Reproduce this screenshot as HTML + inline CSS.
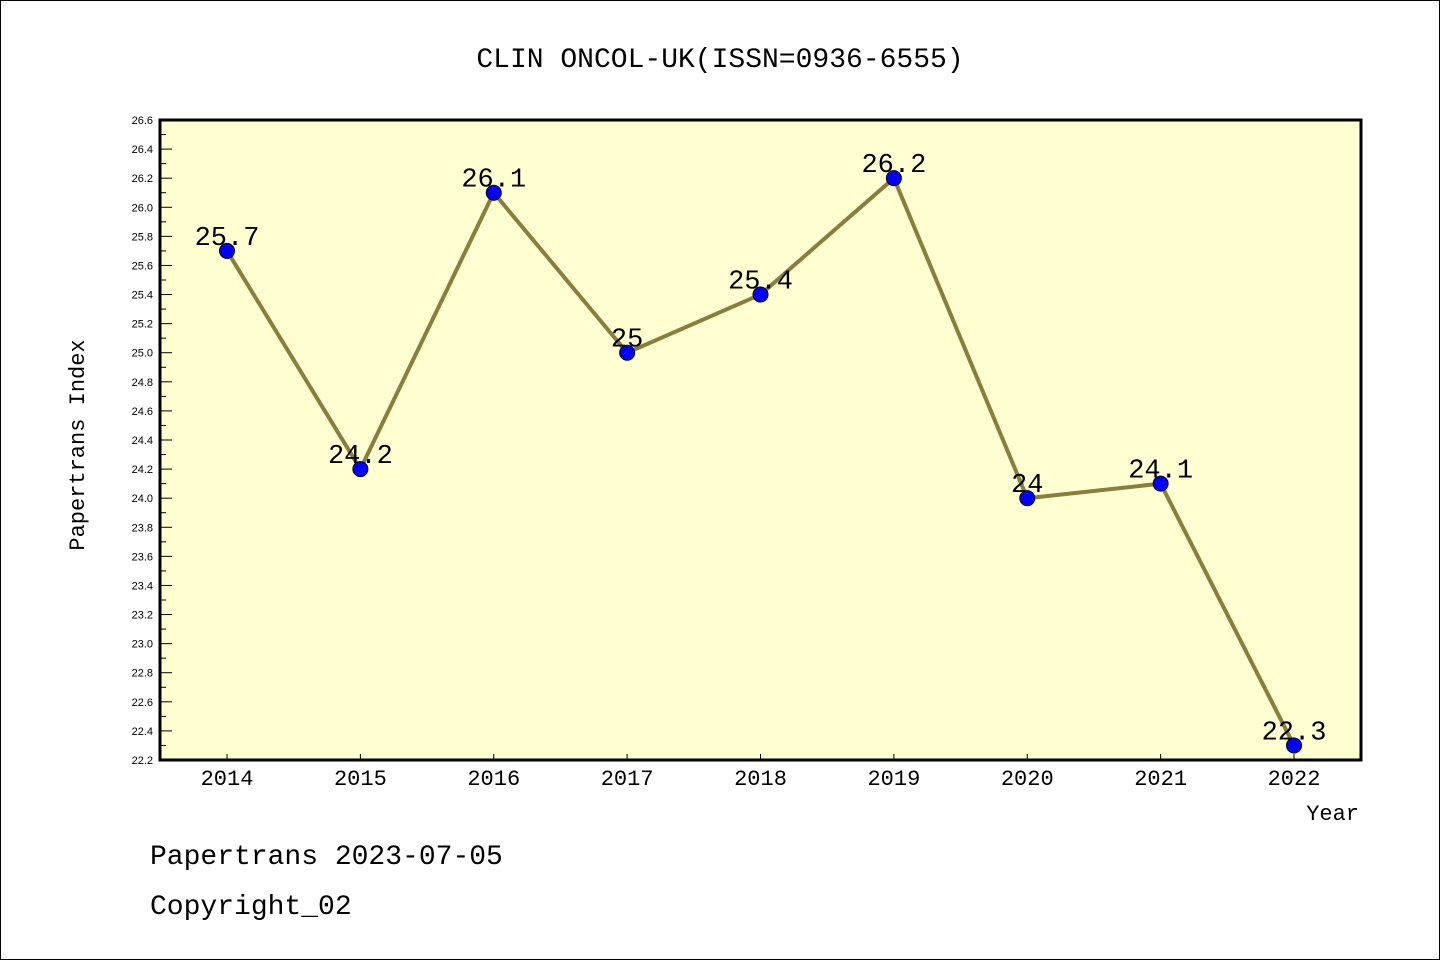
<!DOCTYPE html>
<html><head><meta charset="utf-8"><style>
html,body{margin:0;padding:0;background:#fff}
svg{display:block;font-family:"Liberation Mono","WenQuanYi Zen Hei",monospace}
</style></head><body>
<svg width="1440" height="960" viewBox="0 0 1440 960">
<rect x="0.5" y="0.5" width="1439" height="959" fill="#fff" stroke="#000"/>
<text x="720" y="67" text-anchor="middle" font-size="28">CLIN ONCOL-UK(ISSN=0936-6555)</text>
<rect x="160" y="120" width="1201" height="640" fill="#ffffd2"/>
<g id="yaxis"></g>
<g id="xaxis"></g>
<g id="series"></g>
<rect x="160" y="120" width="1201" height="640" fill="none" stroke="#000" stroke-width="3"/>
<text transform="translate(84,445) rotate(-90)" text-anchor="middle" font-size="22">Papertrans Index</text>
<text x="1359" y="820" text-anchor="end" font-size="22">Year</text>
<text x="150" y="864" font-size="28">Papertrans 2023-07-05</text>
<text x="150" y="914" font-size="28">Copyright_02</text>
</svg>
<script>
const years = ["2014","2015","2016","2017","2018","2019","2020","2021","2022"];
const values = [25.7,24.2,26.1,25.0,25.4,26.2,24.0,24.1,22.3];
const valueLabels = ["25.7","24.2","26.1","25","25.4","26.2","24","24.1","22.3"];
const yMin = 22.2, yMax = 26.6;
const NS = "http://www.w3.org/2000/svg";
function y(v){return 760 - (v - yMin)/(yMax - yMin)*640;}
function x(i){return 227 + i*(1294-227)/(years.length-1);}
function mk(tag, attrs, parent){const e=document.createElementNS(NS,tag);for(const k in attrs)e.setAttribute(k,attrs[k]);parent.appendChild(e);return e;}
const ya=document.getElementById('yaxis'), xa=document.getElementById('xaxis'), sg=document.getElementById('series');
const nT=Math.round((yMax-yMin)/0.1);
for(let k=0;k<=nT;k++){
  const v=yMin+k*0.1, yy=y(v), major=k%2===0;
  const t=mk('line',{x1:160,x2:major?172:166,y1:yy,y2:yy,stroke:'#000','stroke-width':1},ya);
  
  
  if(major){
    const l=mk('text',{x:153,y:yy+4,'text-anchor':'end','font-size':11,'font-family':'Liberation Sans, sans-serif'},ya);
    l.textContent=v.toFixed(1);
    
    
  }
}
years.forEach((yr,i)=>{
  const t=mk('line',{x1:x(i),x2:x(i),y1:760,y2:754,stroke:'#000'},xa);
  
  
  const l=mk('text',{x:x(i),y:785,'text-anchor':'middle','font-size':22},xa);
  l.textContent=yr;
  
  
});
const pts=values.map((v,i)=>x(i)+','+y(v)).join(' ');
const pl=mk('polyline',{points:pts,fill:'none',stroke:'#8b7d3a','stroke-width':4},sg);


values.forEach((v,i)=>{
  const c=mk('circle',{cx:x(i),cy:y(v),r:7.5,fill:'#0000ff',stroke:'#000','stroke-width':1},sg);
  
  
  const l=mk('text',{x:x(i),y:y(v)-6,'text-anchor':'middle','font-size':27},sg);
  l.textContent=valueLabels[i];
  
  
});
</script>
</body></html>
